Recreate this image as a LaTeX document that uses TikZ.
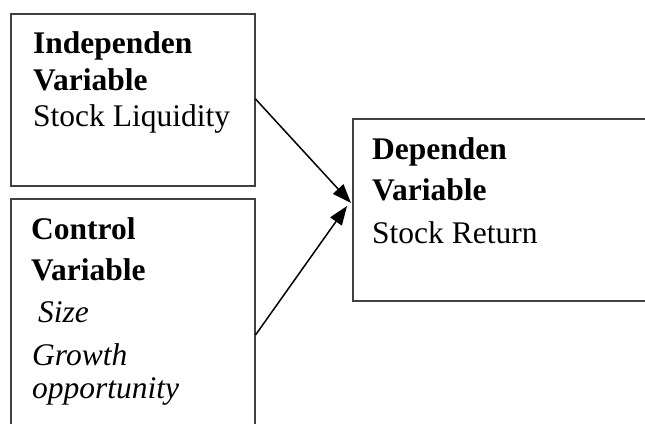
\documentclass[tikz,border=0pt]{standalone}
\usepackage{fontspec}
\setmainfont{Liberation Serif}
\usetikzlibrary{arrows.meta,calc}
\begin{document}
\begin{tikzpicture}[x=1pt,y=-1pt,
  box/.style={draw=black!75, line width=1.5pt, rectangle, inner sep=0pt},
  txt/.style={anchor=base west, inner sep=0pt, font=\fontsize{31.5}{36}\selectfont},
  arr/.style={line width=1.5pt, -{Triangle[length=19pt,width=14pt]}}]
\useasboundingbox (0,0) rectangle (645,423);
\clip (0,0) rectangle (645,423);
\node[box, minimum width=244pt, minimum height=172pt, anchor=north west] (indep) at (10,13) {};
\node[box, minimum width=244pt, minimum height=260pt, anchor=north west] (ctrl) at (10,198) {};
\node[box, minimum width=320pt, minimum height=182pt, anchor=north west] (dep) at (352,118) {};
% texts
\node[txt] (t1) at (33,53) {\textbf{Independen}};
\node[txt] (t2) at (33,90) {\textbf{Variable}};
\node[txt] (t3) at (33,126) {Stock Liquidity};
\node[txt] (c1) at (31,239) {\textbf{Control}};
\node[txt] (c2) at (31,280) {\textbf{Variable}};
\node[txt] (c3) at (38,322) {\textit{Size}};
\node[txt] (c4) at (32,365) {\textit{Growth}};
\node[txt] (c5) at (32,398) {\textit{opportunity}};
\node[txt] (d1) at (372,159) {\textbf{Dependen}};
\node[txt] (d2) at (372,200) {\textbf{Variable}};
\node[txt] (d3) at (372,243) {Stock Return};
% arrows
\draw[arr] ($(indep.north east)+(0,86)$) -- ($(dep.north west)+(-1,85)$);
\draw[arr] ($(ctrl.north east)+(0,137)$) -- ($(dep.north west)+(-5,88)$);
\end{tikzpicture}
\end{document}
